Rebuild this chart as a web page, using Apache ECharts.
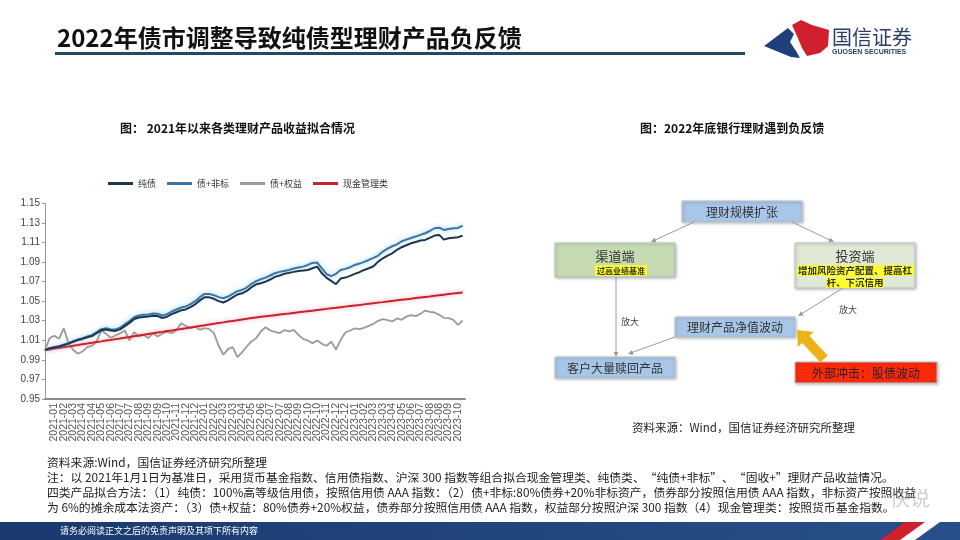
<!DOCTYPE html>
<html><head><meta charset="utf-8">
<script src="https://cdn.jsdelivr.net/npm/echarts@6/dist/echarts.min.js"></script>
<style>html,body{margin:0;padding:0;background:#fff}#c{width:960px;height:540px}</style>
</head><body><div id="c"></div>
<script>
// ---------- data ----------
const xLabels = ['2021-01','2021-01','2021-02','2021-03','2021-04','2021-04','2021-05','2021-06','2021-07','2021-07','2021-08','2021-09','2021-09','2021-10','2021-11','2021-12','2021-12',
'2022-01','2022-02','2022-03','2022-03','2022-04','2022-05','2022-06','2022-07','2022-07','2022-08','2022-09','2022-10','2022-10','2022-11','2022-12','2022-12',
'2023-01','2023-02','2023-03','2023-03','2023-04','2023-05','2023-06','2023-07','2023-08','2023-08','2023-09','2023-10'];
const seriesNames = ['纯债','债+非标','债+权益','现金管理类'];
const pureBond = [1.0000,1.0018,1.0027,1.0036,1.0049,1.0066,1.0085,1.0102,1.0114,1.0130,
1.0143,1.0172,1.0202,1.0211,1.0200,1.0196,1.0212,1.0245,1.0278,1.0317,
1.0333,1.0339,1.0342,1.0351,1.0347,1.0328,1.0341,1.0367,1.0387,1.0406,
1.0415,1.0438,1.0468,1.0508,1.0540,1.0539,1.0524,1.0500,1.0486,1.0508,
1.0538,1.0568,1.0580,1.0604,1.0643,1.0672,
1.0683,1.0700,1.0721,1.0748,1.0762,1.0779,1.0789,1.0799,1.0809,1.0813,
1.0819,1.0836,1.0853,1.0785,1.0738,1.0707,1.0673,1.0731,1.0741,1.0758,
1.0779,1.0796,1.0819,1.0836,1.0857,1.0904,1.0938,1.0966,1.0989,1.1024,
1.1051,1.1071,1.1091,1.1105,1.1119,1.1126,1.1146,1.1170,1.1177,1.1129,
1.1143,1.1149,1.1153,1.1170];
const bondNonStd = [1.0000,1.0020,1.0030,1.0040,1.0054,1.0071,1.0091,1.0109,1.0122,1.0139,
1.0153,1.0183,1.0214,1.0224,1.0214,1.0211,1.0228,1.0262,1.0296,1.0336,
1.0353,1.0360,1.0364,1.0374,1.0371,1.0353,1.0367,1.0394,1.0415,1.0435,
1.0445,1.0469,1.0500,1.0541,1.0574,1.0574,1.0561,1.0541,1.0530,1.0547,
1.0574,1.0602,1.0615,1.0639,1.0677,1.0705,
1.0724,1.0741,1.0762,1.0785,1.0799,1.0809,1.0819,1.0833,1.0843,1.0853,
1.0870,1.0891,1.0894,1.0836,1.0775,1.0755,1.0779,1.0819,1.0830,1.0847,
1.0870,1.0884,1.0901,1.0921,1.0942,1.0966,1.1007,1.1037,1.1061,1.1081,
1.1112,1.1129,1.1146,1.1160,1.1177,1.1194,1.1217,1.1245,1.1251,1.1228,
1.1238,1.1245,1.1248,1.1272];
const bondEquity = [1.0000,1.0122,1.0146,1.0115,1.0224,1.0071,1.0003,0.9962,0.9986,1.0030,
1.0044,1.0088,1.0200,1.0166,1.0126,1.0149,1.0170,1.0200,1.0098,1.0183,
1.0139,1.0156,1.0122,1.0173,1.0139,1.0170,1.0187,1.0173,1.0200,1.0275,
1.0248,1.0224,1.0241,1.0207,1.0224,1.0214,1.0173,1.0044,0.9952,1.0010,
1.0030,0.9928,0.9976,1.0037,1.0088,1.0122,1.0190,1.0234,1.0200,1.0187,
1.0173,1.0204,1.0190,1.0207,1.0156,1.0115,1.0098,1.0071,1.0098,1.0064,
1.0044,1.0085,1.0005,1.0105,1.0180,1.0200,1.0221,1.0214,1.0228,1.0248,
1.0268,1.0299,1.0316,1.0306,1.0292,1.0323,1.0309,1.0343,1.0357,1.0347,
1.0370,1.0404,1.0391,1.0384,1.0360,1.0330,1.0326,1.0309,1.0258,1.0302];
const cashMgmt = [1.0000,1.0007,1.0015,1.0022,1.0030,1.0037,1.0045,1.0052,1.0060,1.0067,
1.0075,1.0082,1.0089,1.0097,1.0104,1.0112,1.0119,1.0127,1.0134,1.0142,
1.0149,1.0156,1.0164,1.0171,1.0179,1.0186,1.0194,1.0201,1.0209,1.0216,
1.0224,1.0231,1.0238,1.0246,1.0253,1.0261,1.0268,1.0276,1.0283,1.0291,
1.0298,1.0305,1.0313,1.0320,1.0328,1.0334,1.0340,1.0345,1.0351,1.0357,
1.0363,1.0369,1.0374,1.0380,1.0386,1.0392,1.0398,1.0403,1.0409,1.0415,
1.0421,1.0427,1.0432,1.0438,1.0444,1.0450,1.0456,1.0461,1.0467,1.0473,
1.0479,1.0485,1.0490,1.0496,1.0502,1.0508,1.0514,1.0519,1.0525,1.0531,
1.0537,1.0543,1.0548,1.0554,1.0560,1.0566,1.0572,1.0577,1.0583,1.0589];
const samplesPerLabel = 2; // two readings per x-axis label interval

// ---------- rendering ----------
const CJK = '"Noto Sans CJK SC", sans-serif';
const toPairs = arr => arr.map((v, i) => [i / samplesPerLabel, v]);
const chart = echarts.init(document.getElementById('c'), null, {renderer: 'canvas'});

function T(text, x, y, size, opt) {
  opt = opt || {};
  return {type: 'text', z: opt.z || 10, style: {text: text, x: x, y: y, fill: opt.fill || '#222',
    font: (opt.bold ? 'bold ' : '') + size + 'px ' + (opt.family || CJK),
    textAlign: opt.align || 'left', textVerticalAlign: 'middle'}};
}
function R(x, y, w, h, fill, opt) {
  opt = opt || {};
  return {type: 'rect', z: opt.z || 5, shape: {x: x, y: y, width: w, height: h},
    style: {fill: fill, stroke: opt.stroke || null, lineWidth: opt.lw || 0,
      shadowBlur: opt.sb || 0, shadowColor: opt.sc || 'rgba(0,0,0,0)', shadowOffsetX: opt.sx || 0, shadowOffsetY: opt.sy || 0}};
}
function arrow(x1, y1, x2, y2, color) {
  const a = Math.atan2(y2 - y1, x2 - x1), L = 5, W = 2.5;
  const c = Math.cos(a), s = Math.sin(a);
  return [
    {type: 'line', z: 6, shape: {x1: x1, y1: y1, x2: x2 - c * 3, y2: y2 - s * 3}, style: {stroke: color, lineWidth: 1}},
    {type: 'polygon', z: 6, shape: {points: [[x2, y2], [x2 - L * c + W * s, y2 - L * s - W * c], [x2 - L * c - W * s, y2 - L * s + W * c]]}, style: {fill: color}}
  ];
}
function fatArrow(x1, y1, x2, y2, bw, hw, hl, color) {
  const a = Math.atan2(y2 - y1, x2 - x1), c = Math.cos(a), s = Math.sin(a);
  const bx = x2 - hl * c, by = y2 - hl * s;
  const px = -s, py = c;
  return {type: 'polygon', z: 7, shape: {points: [
    [x1 + px * bw, y1 + py * bw], [bx + px * bw, by + py * bw], [bx + px * hw, by + py * hw], [x2, y2],
    [bx - px * hw, by - py * hw], [bx - px * bw, by - py * bw], [x1 - px * bw, y1 - py * bw]]},
    style: {fill: color}};
}

const boxShadow = {stroke: '#b9c3cc', lw: 1, sb: 3, sc: 'rgba(0,0,0,0.25)', sx: 1, sy: 1};
const g = [];
// title
g.push(T('2022年债市调整导致纯债型理财产品负反馈', 57, 38, 24, {bold: true, fill: '#111'}));
g.push(R(55, 52, 690, 3, '#1f4c62'));
// logo
g.push({type: 'polygon', z: 8, shape: {points: [[764,46],[788,28],[794,34],[790,42],[796,51],[800,58],[791,57]]}, style: {fill: '#1f3f7a'}});
g.push({type: 'polygon', z: 8, shape: {points: [[792,25],[801,20],[812,25],[829,30],[828,46],[820,53],[807,56],[802,48],[797,36]]}, style: {fill: '#d0202e'}});
g.push(T('国信证券', 832, 37, 20, {fill: '#2a3c6a'}));
g.push(T('GUOSEN SECURITIES', 832, 52, 7, {bold: true, fill: '#2a3c6a', family: '"Liberation Sans", sans-serif'}));
// panel captions
g.push(T('图： 2021年以来各类理财产品收益拟合情况', 120, 128, 12, {bold: true, fill: '#111'}));
g.push(T('图：2022年底银行理财遇到负反馈', 640, 128, 12, {bold: true, fill: '#111'}));
// flowchart
g.push(R(682, 201, 120, 21, '#a8c6e8', boxShadow));
g.push(T('理财规模扩张', 742, 212, 12, {align: 'center', fill: '#333'}));
g.push(R(555, 243, 120, 34, '#c6dbb1', boxShadow));
g.push(T('渠道端', 615, 256, 13, {align: 'center', fill: '#333'}));
g.push(R(595, 265, 52, 11, '#ffff30', {z: 6}));
g.push(T('过高业绩基准', 621, 270.5, 8, {align: 'center', bold: true, fill: '#333'}));
g.push(R(795, 243, 120, 45, '#dfe9d6', boxShadow));
g.push(T('投资端', 855, 256, 13, {align: 'center', fill: '#333'}));
g.push(R(797, 265, 117, 11, '#ffff30', {z: 6}));
g.push(T('增加风险资产配置、提高杠', 855, 270.5, 9.5, {align: 'center', bold: true, fill: '#333'}));
g.push(R(826, 277, 58, 11, '#ffff30', {z: 6}));
g.push(T('杆、下沉信用', 855, 282.5, 9.5, {align: 'center', bold: true, fill: '#333'}));
g.push(R(675, 317, 120, 20, '#a8c6e8', boxShadow));
g.push(T('理财产品净值波动', 735, 327.5, 12, {align: 'center', fill: '#333'}));
g.push(R(555, 357, 120, 21, '#a8c6e8', boxShadow));
g.push(T('客户大量赎回产品', 615, 368, 12, {align: 'center', fill: '#333'}));
g.push(R(795, 362, 142, 21, '#ff2a0c', boxShadow));
g.push(T('外部冲击：股债波动', 866, 373, 12, {align: 'center', fill: '#222'}));
[].push.apply(g, arrow(694, 222, 651, 242, '#9a9a9a'));
[].push.apply(g, arrow(792, 222, 834, 242, '#9a9a9a'));
[].push.apply(g, arrow(616, 277, 616, 357, '#9a9a9a'));
[].push.apply(g, arrow(843, 288, 798, 316, '#9a9a9a'));
[].push.apply(g, arrow(675, 337, 628, 354, '#9a9a9a'));
g.push(fatArrow(824, 359, 797, 330, 5, 11, 13, '#edb21a'));
g.push(T('放大', 630, 322, 9, {align: 'center', fill: '#444'}));
g.push(T('放大', 848, 310, 9, {align: 'center', fill: '#444'}));
g.push(T('资料来源：Wind，国信证券经济研究所整理', 632, 428, 11.5, {fill: '#222'}));
// notes
const noteSize = 11.8;
g.push(T('资料来源:Wind，国信证券经济研究所整理', 47, 463, noteSize, {fill: '#222'}));
g.push(T('注：以 2021年1月1日为基准日，采用货币基金指数、信用债指数、沪深 300 指数等组合拟合现金管理类、纯债类、“纯债+非标”、“固收+”理财产品收益情况。', 47, 478, noteSize, {fill: '#222'}));
g.push(T('四类产品拟合方法：（1）纯债：100%高等级信用债，按照信用债 AAA 指数：（2）债+非标:80%债券+20%非标资产，债券部分按照信用债 AAA 指数，非标资产按照收益', 47, 493, noteSize, {fill: '#222'}));
g.push(T('为 6%的摊余成本法资产：（3）债+权益：80%债券+20%权益，债券部分按照信用债 AAA 指数，权益部分按照沪深 300 指数（4）现金管理类：按照货币基金指数。', 47, 508, noteSize, {fill: '#222'}));
g.push(T('快说', 890, 498, 20, {fill: 'rgba(150,150,150,0.45)'}));
// bottom bar
g.push({type: 'rect', z: 4, shape: {x: 0, y: 522, width: 960, height: 18}, style: {fill: new echarts.graphic.LinearGradient(0, 0, 1, 0, [{offset: 0, color: '#1a3a6e'}, {offset: 1, color: '#27508a'}])}});
g.push({type: 'polygon', z: 5, shape: {points: [[880,540],[905,522],[925,522],[900,540]]}, style: {fill: '#d0202e'}});
g.push({type: 'polygon', z: 5, shape: {points: [[900,540],[925,522],[940,522],[915,540]]}, style: {fill: '#ffffff'}});
g.push(T('请务必阅读正文之后的免责声明及其项下所有内容', 60, 531, 9, {fill: '#ffffff'}));

const option = {
  animation: false,
  backgroundColor: '#ffffff',
  graphic: g,
  legend: {
    data: seriesNames, left: 103, top: 174, itemWidth: 25, itemHeight: 3, itemGap: 11, icon: 'rect',
    textStyle: {fontSize: 9, color: '#333', fontFamily: CJK}
  },
  grid: {left: 45, right: 495, top: 203.3, bottom: 141, containLabel: false},
  xAxis: {
    type: 'value', min: 0, max: 44.75, interval: 1,
    axisLine: {show: true, lineStyle: {color: '#8a8a8a', width: 2}},
    axisTick: {show: false}, splitLine: {show: false},
    axisLabel: {rotate: 90, fontSize: 10.5, color: '#555', margin: 4, showMaxLabel: false,
      fontFamily: '"Liberation Sans", sans-serif',
      formatter: v => (Number.isInteger(v) && xLabels[v] !== undefined) ? xLabels[v] : ''}
  },
  yAxis: {
    type: 'value', min: 0.95, max: 1.15, interval: 0.02,
    axisLine: {show: true, lineStyle: {color: '#999', width: 1}},
    axisTick: {show: true, length: 3, lineStyle: {color: '#999'}},
    splitLine: {show: false},
    axisLabel: {fontSize: 10, color: '#444', margin: 5, fontFamily: '"Liberation Sans", sans-serif',
      formatter: v => v.toFixed(2)}
  },
  series: [
    {name: '债+权益', type: 'line', data: toPairs(bondEquity), symbol: 'none', z: 2,
      itemStyle: {color: '#9a9a9a'}, lineStyle: {color: '#9a9a9a', width: 1.8}},
    {name: '现金管理类', type: 'line', data: toPairs(cashMgmt), symbol: 'none', z: 3,
      itemStyle: {color: '#c4232f'}, lineStyle: {color: '#c4232f', width: 2, shadowBlur: 4, shadowColor: 'rgba(255,140,150,0.8)'}},
    {name: '债+非标', type: 'line', data: toPairs(bondNonStd), symbol: 'none', z: 4,
      itemStyle: {color: '#3f73a0'}, lineStyle: {color: '#3f73a0', width: 2, shadowBlur: 5, shadowColor: 'rgba(120,200,245,0.9)'}},
    {name: '纯债', type: 'line', data: toPairs(pureBond), symbol: 'none', z: 5,
      itemStyle: {color: '#1c3550'}, lineStyle: {color: '#1c3550', width: 2}}
  ]
};
chart.setOption(option);
</script>
</body></html>
